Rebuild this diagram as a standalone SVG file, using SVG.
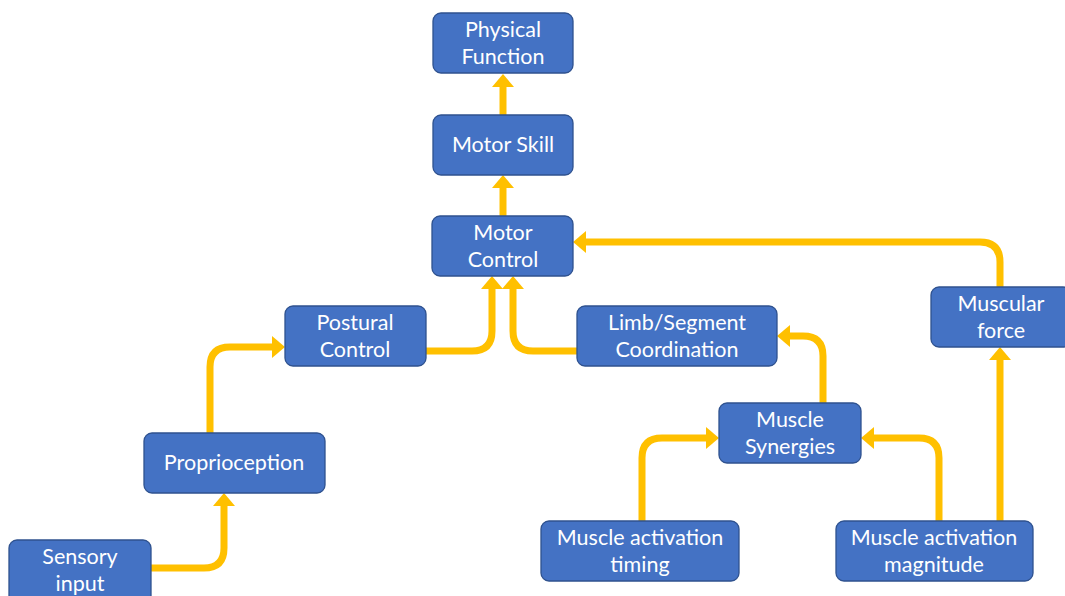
<svg xmlns="http://www.w3.org/2000/svg" width="1065" height="596" viewBox="0 0 1065 596">
  <style>
    .box { fill: #4472C4; stroke: #2F528F; stroke-width: 1.3; }
    .lbl { fill: #FFFFFF; font-family: Lato, "Open Sans", "Liberation Sans", sans-serif; font-size: 21.5px; text-anchor: middle; }
    .link { fill: none; stroke: #FFC000; stroke-width: 7; marker-end: url(#head); }
  </style>
  <defs>
    <marker id="head" markerUnits="userSpaceOnUse" markerWidth="14" markerHeight="22" refX="0" refY="11" orient="auto" viewBox="0 0 14 22">
      <path d="M0,0 L13,11 L0,22 Z" fill="#FFC000"/>
    </marker>
  </defs>
  <rect width="1065" height="596" fill="#FFFFFF"/>

  <!-- connectors -->
  <g id="connectors">
    <path class="link" d="M503,115 V87"/>
    <path class="link" d="M503,216 V188"/>
    <path class="link" d="M1000,287 V262 Q1000,242 980,242 H586"/>
    <path class="link" d="M426,351 H472 Q492,351 492,331 V289"/>
    <path class="link" d="M577,351 H533 Q513,351 513,331 V289"/>
    <path class="link" d="M823,403 V356 Q823,336 803,336 H790"/>
    <path class="link" d="M642,521 V458 Q642,438 662,438 H706"/>
    <path class="link" d="M939,521 V458 Q939,438 919,438 H874"/>
    <path class="link" d="M1000,521 V360"/>
    <path class="link" d="M151,568 H204 Q224,568 224,548 V506"/>
    <path class="link" d="M210,433 V367 Q210,347 230,347 H272"/>
  </g>

  <!-- nodes -->
  <g id="physical-function">
    <rect class="box" x="433" y="13" width="140" height="60" rx="8"/>
    <text class="lbl" x="503" y="37">Physical</text>
    <text class="lbl" x="503" y="64">Function</text>
  </g>
  <g id="motor-skill">
    <rect class="box" x="433" y="115" width="140" height="60" rx="8"/>
    <text class="lbl" x="503" y="152">Motor Skill</text>
  </g>
  <g id="motor-control">
    <rect class="box" x="432" y="216" width="141" height="60" rx="8"/>
    <text class="lbl" x="503" y="240">Motor</text>
    <text class="lbl" x="503" y="267">Control</text>
  </g>
  <g id="postural-control">
    <rect class="box" x="285" y="306" width="141" height="60" rx="8"/>
    <text class="lbl" x="355" y="330">Postural</text>
    <text class="lbl" x="355" y="357">Control</text>
  </g>
  <g id="limb-segment-coordination">
    <rect class="box" x="577" y="306" width="200" height="60" rx="8"/>
    <text class="lbl" x="677" y="330">Limb/Segment</text>
    <text class="lbl" x="677" y="357">Coordination</text>
  </g>
  <g id="muscular-force">
    <rect class="box" x="931" y="287" width="140" height="60" rx="8"/>
    <text class="lbl" x="1001" y="311">Muscular</text>
    <text class="lbl" x="1001" y="338">force</text>
  </g>
  <g id="muscle-synergies">
    <rect class="box" x="719" y="403" width="142" height="60" rx="8"/>
    <text class="lbl" x="790" y="427">Muscle</text>
    <text class="lbl" x="790" y="454">Synergies</text>
  </g>
  <g id="proprioception">
    <rect class="box" x="144" y="433" width="181" height="60" rx="8"/>
    <text class="lbl" x="234" y="470">Proprioception</text>
  </g>
  <g id="sensory-input">
    <rect class="box" x="9" y="540" width="142" height="70" rx="8"/>
    <text class="lbl" x="80" y="564">Sensory</text>
    <text class="lbl" x="80" y="591">input</text>
  </g>
  <g id="muscle-activation-timing">
    <rect class="box" x="541" y="521" width="198" height="60" rx="8"/>
    <text class="lbl" x="640" y="545">Muscle activation</text>
    <text class="lbl" x="640" y="572">timing</text>
  </g>
  <g id="muscle-activation-magnitude">
    <rect class="box" x="836" y="521" width="197" height="60" rx="8"/>
    <text class="lbl" x="934" y="545">Muscle activation</text>
    <text class="lbl" x="934" y="572">magnitude</text>
  </g>
</svg>
